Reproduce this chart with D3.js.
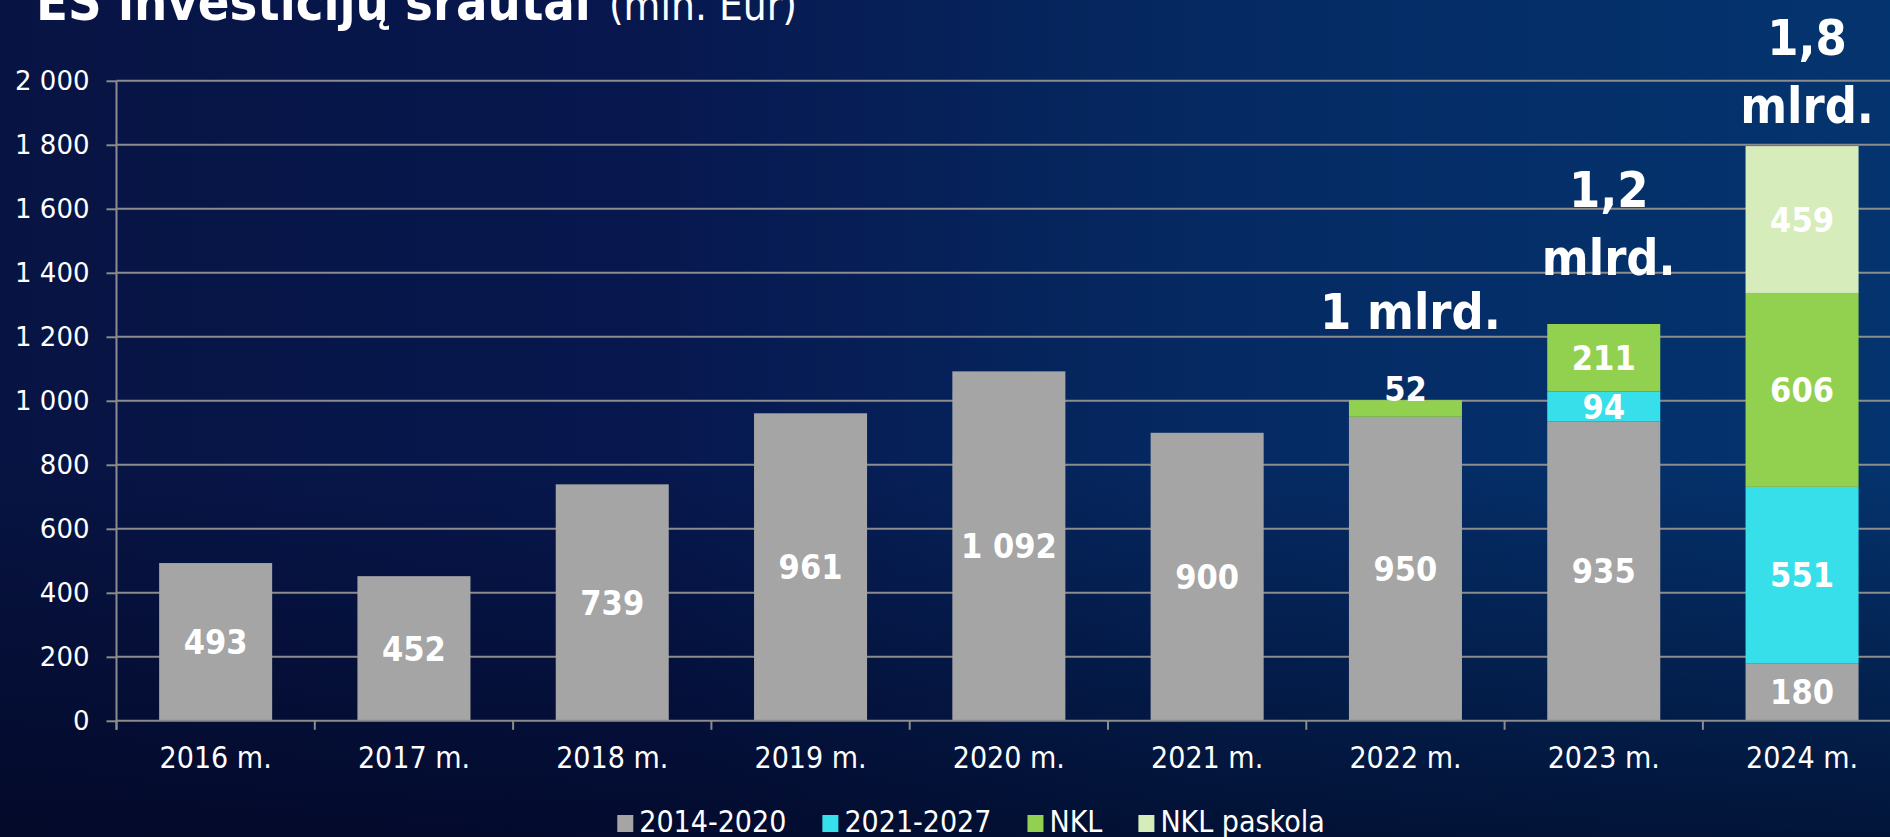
<!DOCTYPE html>
<html>
<head>
<meta charset="utf-8">
<script src="https://cdn.jsdelivr.net/npm/d3@7"></script>
<style>
  html, body { margin: 0; padding: 0; overflow: hidden; background: #06133f; }
  svg { display: block; }
  text { fill: #fff; }
</style>
</head>
<body>
<script>
// chart data
var categories = ['2016 m.', '2017 m.', '2018 m.', '2019 m.', '2020 m.', '2021 m.', '2022 m.', '2023 m.', '2024 m.'];
var seriesNames = ['2014-2020', '2021-2027', 'NKL', 'NKL paskola'];
var values20142020 = [493, 452, 739, 961, 1092, 900, 950, 935, 180];
var values20212027 = [0, 0, 0, 0, 0, 0, 0, 94, 551];
var valuesNKL = [0, 0, 0, 0, 0, 0, 52, 211, 606];
var valuesNKLPaskola = [0, 0, 0, 0, 0, 0, 0, 0, 459];
var yTicks = [0, 200, 400, 600, 800, 1000, 1200, 1400, 1600, 1800, 2000];
var annotations = [
  { category: '2022 m.', lines: ['1 mlrd.'] },
  { category: '2023 m.', lines: ['1,2', 'mlrd.'] },
  { category: '2024 m.', lines: ['1,8', 'mlrd.'] }
];
var titleMain = 'ES investicijų srautai';
var titleUnit = '(mln. Eur)';

var colors = ['#a5a5a5', '#37dfea', '#92d050', '#d7ecbb'];

var width = 1890, height = 837;
var condensed = '"DejaVu Sans Condensed", "DejaVu Sans", sans-serif';
var regular = '"DejaVu Sans", sans-serif';

var lt = d3.formatLocale({ decimal: ',', thousands: '\u00a0', grouping: [3], currency: ['', ' €'] });
var fmt = lt.format(',d');

var rows = categories.map(function (c, i) {
  return {
    category: c,
    '2014-2020': values20142020[i],
    '2021-2027': values20212027[i],
    'NKL': valuesNKL[i],
    'NKL paskola': valuesNKLPaskola[i]
  };
});
var stacked = d3.stack().keys(seriesNames)(rows);

var svg = d3.select('body').append('svg').attr('width', width).attr('height', height);

// background
var defs = svg.append('defs');
var bgH = defs.append('linearGradient').attr('id', 'bgH').attr('x1', 0).attr('x2', 1).attr('y1', 0).attr('y2', 0);
bgH.append('stop').attr('offset', '0%').attr('stop-color', '#071443');
bgH.append('stop').attr('offset', '35%').attr('stop-color', '#07184f');
bgH.append('stop').attr('offset', '65%').attr('stop-color', '#052a63');
bgH.append('stop').attr('offset', '100%').attr('stop-color', '#04346f');
var bgV = defs.append('linearGradient').attr('id', 'bgV').attr('x1', 0).attr('x2', 0).attr('y1', 0).attr('y2', 1);
bgV.append('stop').attr('offset', '0%').attr('stop-color', '#01041c').attr('stop-opacity', 0);
bgV.append('stop').attr('offset', '55%').attr('stop-color', '#01041c').attr('stop-opacity', 0);
bgV.append('stop').attr('offset', '100%').attr('stop-color', '#01041c').attr('stop-opacity', 0.65);
svg.append('rect').attr('width', width).attr('height', height).attr('fill', 'url(#bgH)');
svg.append('rect').attr('width', width).attr('height', height).attr('fill', 'url(#bgV)');

// scales
var x0 = 116.5, step = 198.3;
var x = d3.scaleBand().domain(categories)
  .range([x0, x0 + step * categories.length])
  .paddingInner(0.43).paddingOuter(0.215);
var y = d3.scaleLinear().domain([0, 2000]).range([720.8, 80.8]);

// gridlines
svg.append('g').selectAll('line').data(yTicks.filter(function (d) { return d > 0; }))
  .enter().append('line')
  .attr('x1', x0).attr('x2', width)
  .attr('y1', function (d) { return y(d); }).attr('y2', function (d) { return y(d); })
  .attr('stroke', '#8c8c8c').attr('stroke-width', 2);

// y axis
var yAxis = svg.append('g').attr('transform', 'translate(' + x0 + ',0)')
  .call(d3.axisLeft(y).tickValues(yTicks).tickFormat(fmt).tickSizeInner(10).tickSizeOuter(0).tickPadding(17));
yAxis.select('.domain').remove();
yAxis.selectAll('line').attr('stroke', '#8c8c8c').attr('stroke-width', 2);
yAxis.selectAll('text').style('font-family', regular).style('font-size', '26px').attr('fill', '#fff');
svg.append('line').attr('x1', x0).attr('x2', x0).attr('y1', y(2000)).attr('y2', y(0) + 9)
  .attr('stroke', '#8c8c8c').attr('stroke-width', 2);

// bars
var layer = svg.append('g').selectAll('g').data(stacked).enter().append('g')
  .attr('fill', function (d, i) { return colors[i]; });
layer.selectAll('rect').data(function (d) { return d.filter(function (s) { return s[1] - s[0] > 0; }); })
  .enter().append('rect')
  .attr('x', function (d) { return x(d.data.category); })
  .attr('width', x.bandwidth())
  .attr('y', function (d) { return y(d[1]); })
  .attr('height', function (d) { return y(d[0]) - y(d[1]); });

// x axis
svg.append('line').attr('x1', x0).attr('x2', width).attr('y1', y(0)).attr('y2', y(0))
  .attr('stroke', '#8c8c8c').attr('stroke-width', 2);
svg.append('g').selectAll('line').data(d3.range(categories.length + 1)).enter().append('line')
  .attr('x1', function (i) { return x0 + i * x.step(); })
  .attr('x2', function (i) { return x0 + i * x.step(); })
  .attr('y1', y(0)).attr('y2', y(0) + 9)
  .attr('stroke', '#8c8c8c').attr('stroke-width', 2);
svg.append('g').selectAll('text').data(categories).enter().append('text')
  .attr('x', function (d) { return x(d) + x.bandwidth() / 2; })
  .attr('y', 768)
  .attr('text-anchor', 'middle')
  .style('font-family', condensed).style('font-size', '30px')
  .text(function (d) { return d; });

// bar labels
var labels = [];
stacked.forEach(function (s) {
  s.forEach(function (d) {
    if (d[1] - d[0] > 0) labels.push(d);
  });
});
svg.append('g').selectAll('text').data(labels).enter().append('text')
  .attr('x', function (d) { return x(d.data.category) + x.bandwidth() / 2; })
  .attr('y', function (d) {
    var h = y(d[0]) - y(d[1]);
    if (h < 30) return y(d[1]) + 1;
    return (y(d[0]) + y(d[1])) / 2;
  })
  .attr('dy', function (d) { return (y(d[0]) - y(d[1])) < 30 ? 0 : '0.36em'; })
  .attr('text-anchor', 'middle')
  .style('font-family', condensed).style('font-size', '34px').style('font-weight', 'bold')
  .text(function (d) { return fmt(d[1] - d[0]); });

// total annotations
var annotationLift = { '2022 m.': 71, '2023 m.': 49, '2024 m.': 23 };
var totals = {};
rows.forEach(function (r) { totals[r.category] = d3.sum(seriesNames, function (k) { return r[k]; }); });
annotations.forEach(function (a) {
  var base = y(totals[a.category]) - annotationLift[a.category];
  var n = a.lines.length;
  a.lines.forEach(function (line, i) {
    svg.append('text')
      .attr('x', x(a.category) + x.bandwidth() / 2 + 5)
      .attr('y', base - (n - 1 - i) * 68)
      .attr('text-anchor', 'middle')
      .style('font-family', condensed).style('font-size', '50px').style('font-weight', 'bold')
      .text(line);
  });
});

// title
var title = svg.append('text').attr('x', 36).attr('y', 20);
title.append('tspan').style('font-family', condensed).style('font-size', '52px').style('font-weight', 'bold').text(titleMain);
title.append('tspan').attr('dx', 18).style('font-family', condensed).style('font-size', '42px').text(titleUnit);

// legend
var legend = svg.append('g');
var lx = 0;
seriesNames.forEach(function (name, i) {
  var item = legend.append('g').attr('transform', 'translate(' + lx + ',0)');
  item.append('rect').attr('x', 0).attr('y', 815).attr('width', 16).attr('height', 17).attr('fill', colors[i]);
  var t = item.append('text').attr('x', 22).attr('y', 832)
    .style('font-family', condensed).style('font-size', '30px').text(name);
  lx += 22 + t.node().getComputedTextLength() + 36;
});
var legendWidth = lx - 36;
legend.attr('transform', 'translate(' + (971 - legendWidth / 2) + ',0)');
</script>
</body>
</html>
